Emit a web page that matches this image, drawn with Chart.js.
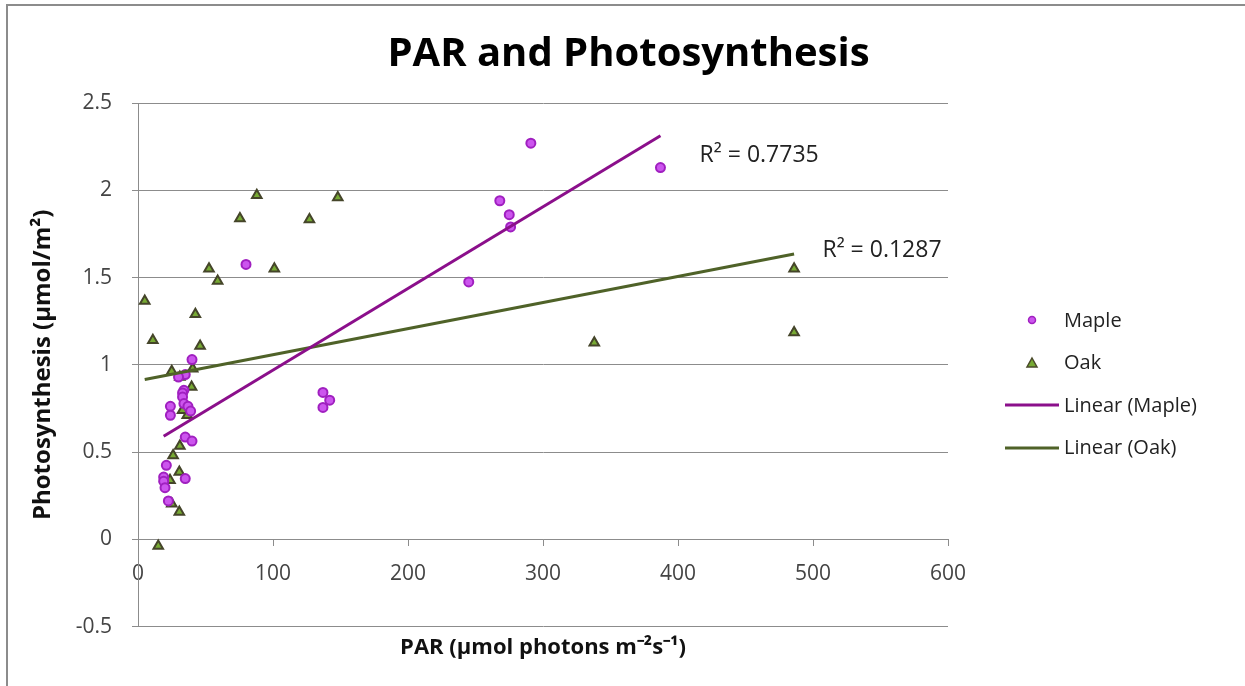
<!DOCTYPE html>
<html>
<head>
<meta charset="utf-8">
<script src="https://cdn.jsdelivr.net/npm/chart.js@4.4.1/dist/chart.umd.min.js"></script>
<style>
  html, body { margin: 0; padding: 0; background: #fff; }
  #wrap { position: relative; width: 1245px; height: 686px; overflow: hidden; }
  #frame { position: absolute; left: 6px; top: 4px; width: 1245px; height: 690px;
           border-left: 2px solid #8c8c8c; border-top: 2px solid #8c8c8c; pointer-events: none; }
  #legend { position: absolute; left: 1000px; top: 298px; font-family: "Open Sans", sans-serif;
            font-size: 20px; color: #222; }
  .row { height: 42.5px; display: flex; align-items: center; }
  .key { width: 60px; height: 20px; position: relative; }
  .lbl { margin-left: 4px; }
</style>
</head>
<body>
<div id="wrap">
  <canvas id="parChart" width="1245" height="686"></canvas>
  <div id="frame"></div>
  <div id="legend">
    <div class="row"><span class="key"><svg width="60" height="20"><circle cx="32" cy="10" r="3.5" fill="#cc55ee" stroke="#a020c0" stroke-width="1.5"/></svg></span><span class="lbl">Maple</span></div>
    <div class="row"><span class="key"><svg width="60" height="20"><polygon points="32,5 37,14 27,14" fill="#77aa33" stroke="#4a4a2a" stroke-width="1.5"/></svg></span><span class="lbl">Oak</span></div>
    <div class="row"><span class="key"><svg width="60" height="20"><line x1="5" y1="10" x2="59" y2="10" stroke="#8b0f8b" stroke-width="3"/></svg></span><span class="lbl">Linear (Maple)</span></div>
    <div class="row"><span class="key"><svg width="60" height="20"><line x1="5" y1="10" x2="59" y2="10" stroke="#4f6228" stroke-width="3"/></svg></span><span class="lbl">Linear (Oak)</span></div>
  </div>
</div>
<script>
// PAR (x) and photosynthesis (y) readings
const mapleX = [291, 387, 268, 275, 276, 245, 80, 137, 137, 142,
                40, 35, 30, 34, 33, 33, 34, 24, 24, 37, 39, 35, 40, 21, 35, 19, 19, 20, 22.5];
const mapleY = [2.27, 2.13, 1.94, 1.86, 1.79, 1.475, 1.575, 0.842, 0.756, 0.797,
                1.03, 0.944, 0.93, 0.854, 0.839, 0.816, 0.778, 0.762, 0.711, 0.762, 0.735, 0.586, 0.563, 0.424, 0.348, 0.357, 0.333, 0.296, 0.22];
const oakX = [88, 148, 75.5, 127, 52.6, 101, 59, 486, 486, 338,
              5, 42.5, 11, 46, 40.5, 25, 31, 39.7, 33, 36.5, 31, 26, 30.6, 23.7, 25, 30.6, 15];
const oakY = [1.971, 1.958, 1.838, 1.832, 1.551, 1.551, 1.48, 1.551, 1.185, 1.127,
              1.366, 1.289, 1.14, 1.108, 0.978, 0.963, 0.93, 0.873, 0.739, 0.711, 0.535, 0.481, 0.386, 0.338, 0.204, 0.156, -0.038];

const xTicks = [0, 100, 200, 300, 400, 500, 600];
const yTicks = [-0.5, 0, 0.5, 1, 1.5, 2, 2.5];

const r2Labels = [
    { text: 'R² = 0.7735', x: 416, y: 2.2 },
    { text: 'R² = 0.1287', x: 507, y: 1.655 }
];

const FONT = '"Open Sans", sans-serif';

function toPoints(xs, ys) {
    return xs.map((x, i) => ({ x: x, y: ys[i] }));
}

// least squares line over the data's x range, like Excel's linear trendline
function trendLine(xs, ys) {
    const n = xs.length;
    const mx = xs.reduce((a, b) => a + b, 0) / n;
    const my = ys.reduce((a, b) => a + b, 0) / n;
    let sxy = 0, sxx = 0;
    xs.forEach((x, i) => { sxy += (x - mx) * (ys[i] - my); sxx += (x - mx) * (x - mx); });
    const slope = sxy / sxx;
    const icpt = my - slope * mx;
    const x0 = Math.min(...xs), x1 = Math.max(...xs);
    return [{ x: x0, y: icpt + slope * x0 }, { x: x1, y: icpt + slope * x1 }];
}

const r2Plugin = {
    id: 'r2Text',
    afterDatasetsDraw(chart) {
        const { ctx, scales } = chart;
        ctx.save();
        ctx.font = '23px ' + FONT;
        ctx.fillStyle = '#222';
        ctx.textBaseline = 'middle';
        r2Labels.forEach(l => {
            ctx.fillText(l.text, scales.x.getPixelForValue(l.x), scales.y.getPixelForValue(l.y));
        });
        ctx.restore();
    }
};

new Chart(document.getElementById('parChart'), {
    type: 'scatter',
    data: {
        datasets: [
            {
                label: 'Linear (Maple)',
                type: 'line',
                data: trendLine(mapleX, mapleY),
                borderColor: '#8b0f8b',
                borderWidth: 3,
                pointRadius: 0,
                order: 1
            },
            {
                label: 'Linear (Oak)',
                type: 'line',
                data: trendLine(oakX, oakY),
                borderColor: '#4f6228',
                borderWidth: 3,
                pointRadius: 0,
                order: 1
            },
            {
                label: 'Maple',
                data: toPoints(mapleX, mapleY),
                pointStyle: 'circle',
                pointRadius: 4.5,
                backgroundColor: '#cc55ee',
                borderColor: '#a020c0',
                borderWidth: 2,
                order: 2
            },
            {
                label: 'Oak',
                data: toPoints(oakX, oakY),
                pointStyle: 'triangle',
                pointRadius: 5.5,
                backgroundColor: '#77aa33',
                borderColor: '#45452a',
                borderWidth: 2,
                order: 3
            }
        ]
    },
    options: {
        responsive: false,
        animation: false,
        events: [],
        layout: { padding: { top: 0, left: 12, right: 0, bottom: 13 } },
        plugins: {
            legend: { display: false },
            tooltip: { enabled: false },
            title: {
                display: true,
                text: 'PAR and Photosynthesis',
                color: '#000',
                font: { family: FONT, size: 40, weight: 'bold' },
                padding: { top: 31, bottom: 24 }
            }
        },
        scales: {
            x: {
                type: 'linear',
                position: { y: 0 },
                min: 0,
                max: 600,
                afterBuildTicks: s => { s.ticks = xTicks.map(v => ({ value: v })); },
                afterFit: s => { s.height = 0; },
                grid: { drawOnChartArea: false, drawTicks: true, tickLength: 6, color: '#8c8c8c' },
                border: { display: true, color: '#8c8c8c', width: 1 },
                ticks: { color: '#444', font: { family: FONT, size: 21 }, padding: 16, maxRotation: 0,
                         callback: v => String(v) }
            },
            xTitle: {
                type: 'linear',
                position: 'bottom',
                axis: 'x',
                min: 0,
                max: 600,
                grid: { display: false, drawTicks: false },
                border: { display: false },
                ticks: { display: false },
                title: {
                    display: true,
                    text: 'PAR (µmol photons m⁻²s⁻¹)',
                    color: '#111',
                    font: { family: FONT, size: 22, weight: 'bold' },
                    padding: { top: 8, bottom: 12 }
                }
            },
            y: {
                type: 'linear',
                min: -0.5,
                max: 2.5,
                afterBuildTicks: s => { s.ticks = yTicks.map(v => ({ value: v })); },
                afterFit: s => { s.width = 126; },
                grid: { color: '#8c8c8c', drawTicks: true, tickLength: 6 },
                border: { display: true, color: '#8c8c8c', width: 1 },
                ticks: { color: '#444', font: { family: FONT, size: 21 }, padding: 20,
                         callback: v => String(v) },
                title: {
                    display: true,
                    text: 'Photosynthesis (µmol/m²)',
                    color: '#111',
                    font: { family: FONT, size: 24, weight: 'bold' },
                    padding: { top: 17, bottom: 0 }
                }
            },
            // empty right-hand axis that keeps room for the legend
            yRoom: {
                type: 'linear',
                position: 'right',
                axis: 'y',
                min: 0,
                max: 1,
                afterFit: s => { s.width = 297; },
                grid: { display: false, drawTicks: false },
                border: { display: false },
                ticks: { display: false }
            }
        }
    },
    plugins: [r2Plugin]
});
</script>
</body>
</html>
